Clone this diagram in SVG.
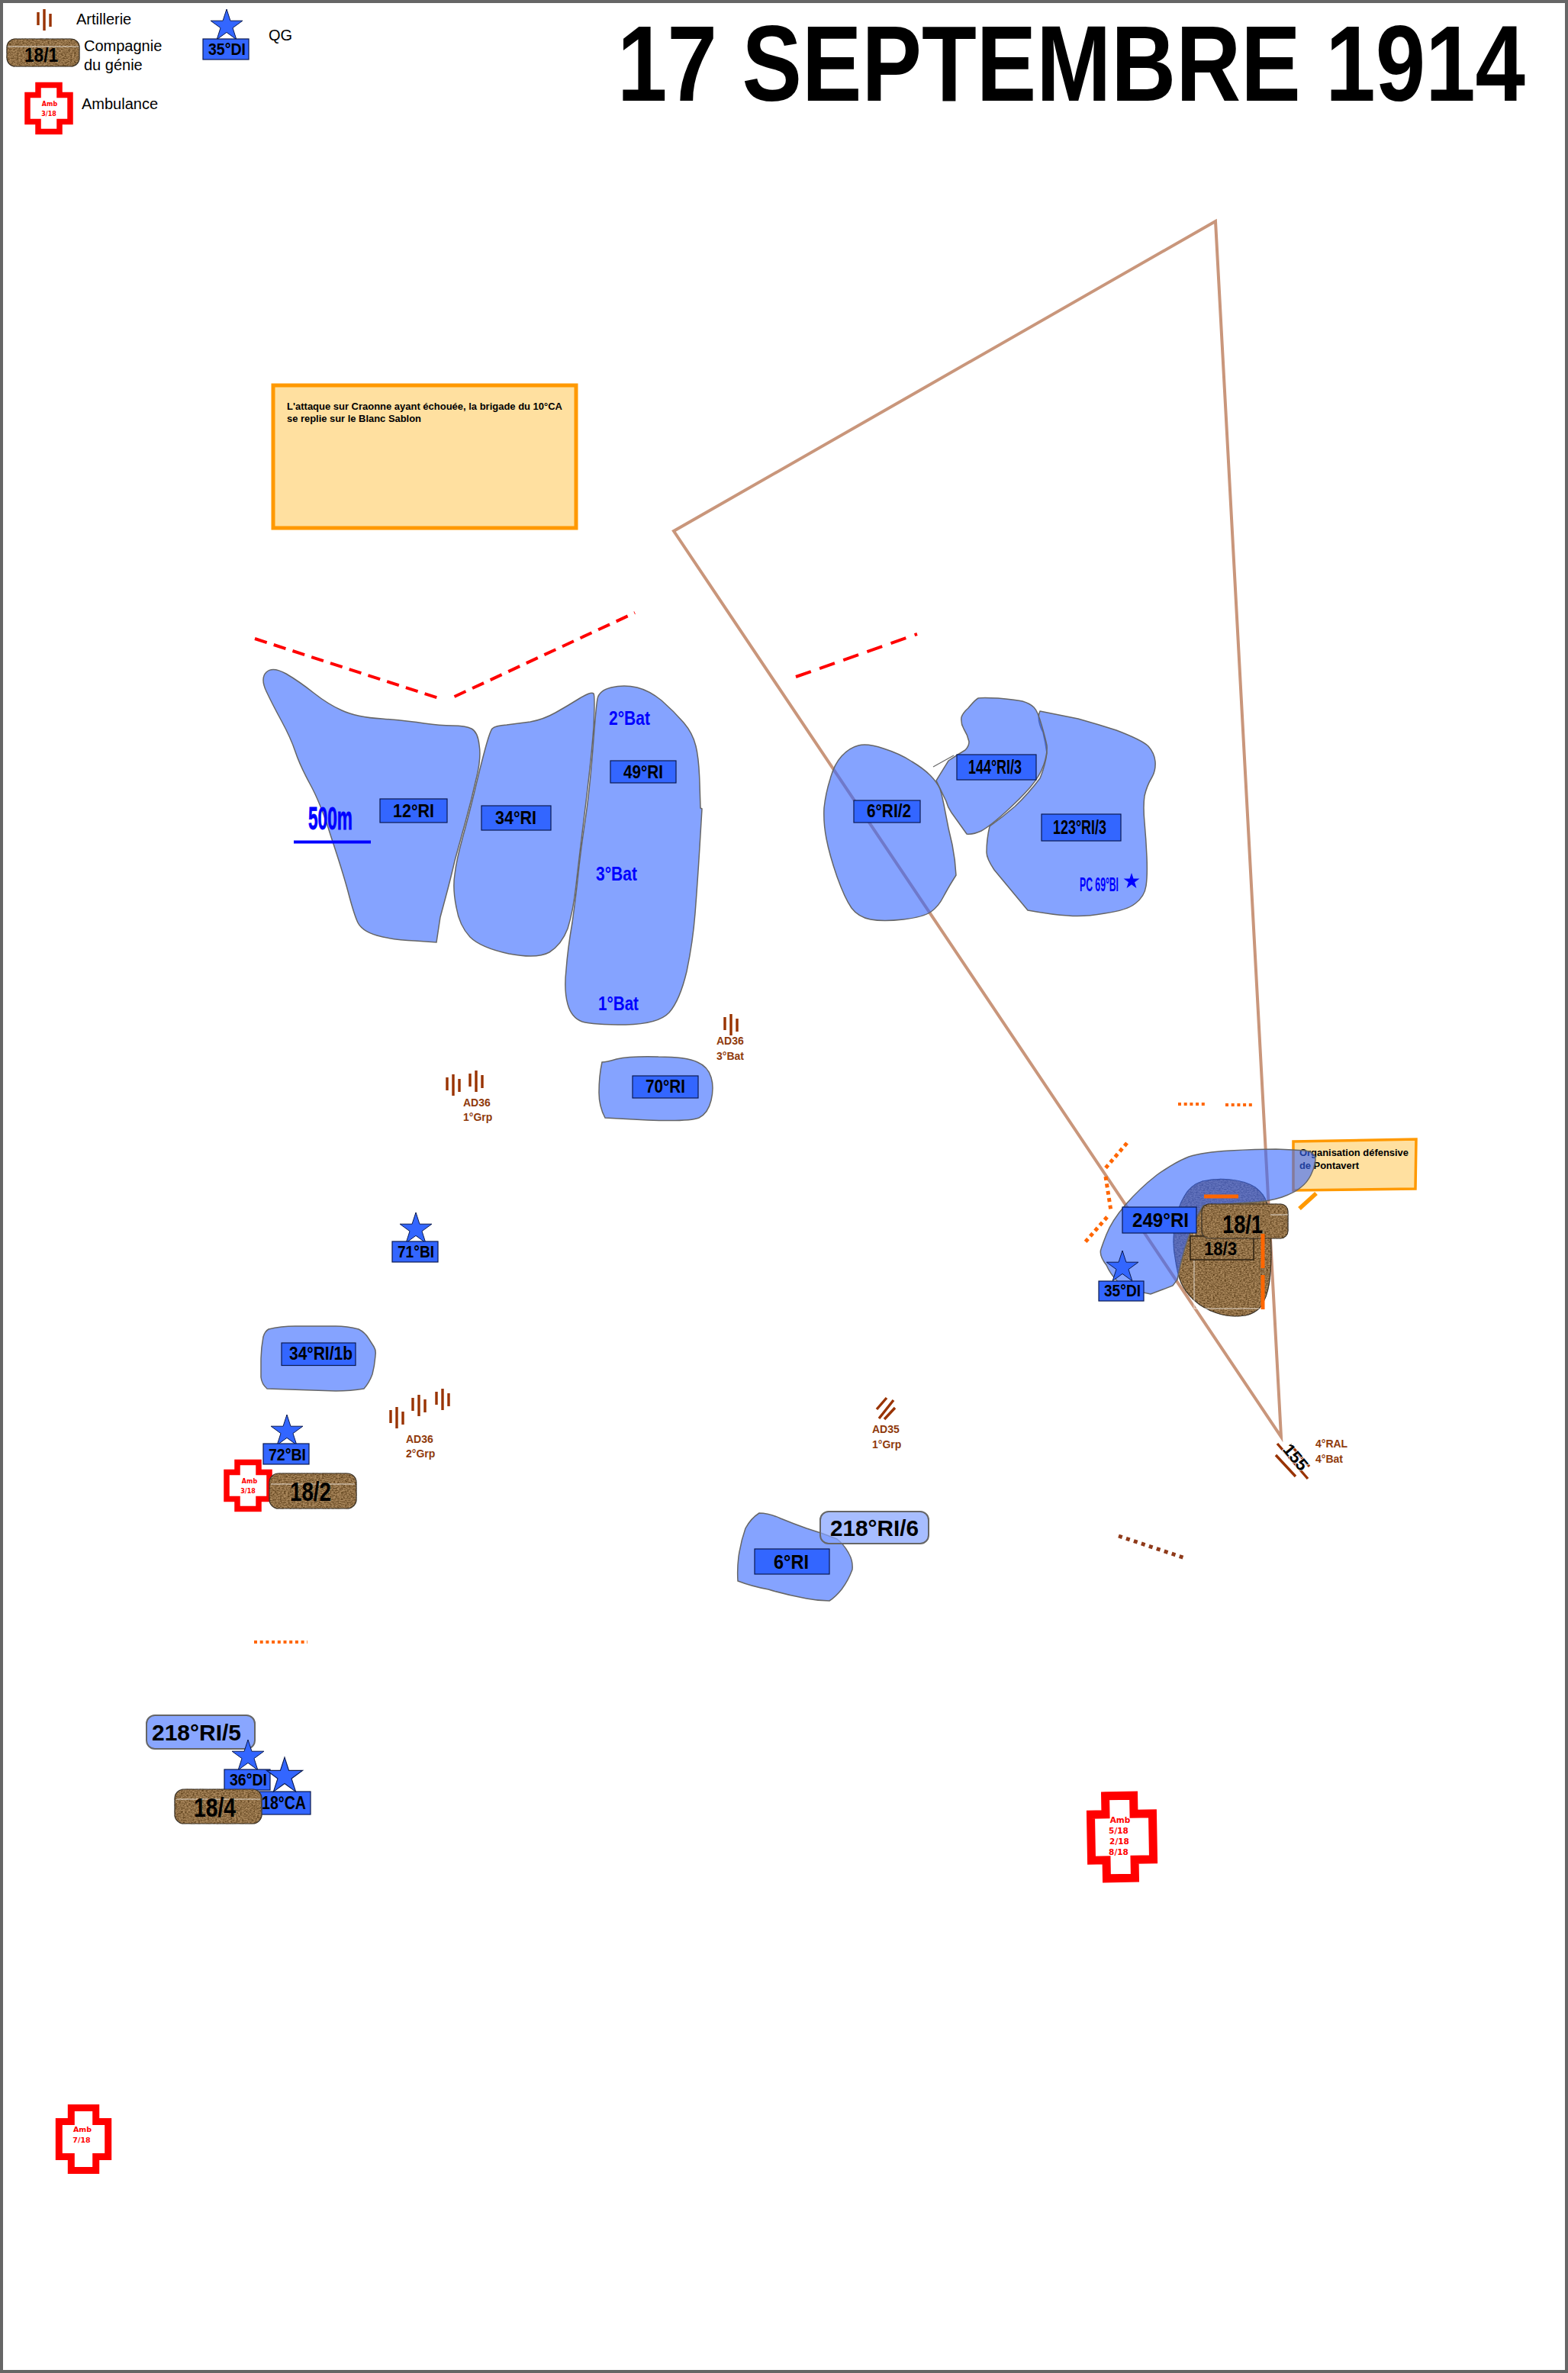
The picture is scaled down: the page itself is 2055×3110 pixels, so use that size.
<svg xmlns="http://www.w3.org/2000/svg" xmlns:xlink="http://www.w3.org/1999/xlink" width="2055" height="3110" viewBox="0 0 2055 3110">
<style>
text{font-family:"Liberation Sans",Arial,sans-serif}
.b{font-weight:bold;fill:#000}
.r{fill:#000;font-size:20px}
.bl{font-weight:bold;fill:#0000ff}
.br{font-weight:bold;fill:#8f3a0c;font-size:14px}
.am{font-family:"DejaVu Sans",sans-serif;font-weight:bold;fill:#ff0000;text-anchor:middle;font-size:8px}
.am2{font-family:"DejaVu Sans",sans-serif;font-weight:bold;fill:#ff0000;text-anchor:middle;font-size:10.5px}
.blob{fill:#3366ff;fill-opacity:.6;stroke:#666;stroke-width:1.5}
.lab{fill:#3366ff;stroke:#0a1a50;stroke-width:1.2}
.pill{fill:#85a3ff;fill-opacity:.97;stroke:#666;stroke-width:2}
.sand{fill:#ad8a5e;stroke:#333;stroke-width:1.2;filter:url(#sand)}
.seam{stroke:#fff;stroke-width:1;opacity:.75;fill:none}
.note{fill:#ffe0a0;stroke:#ff9900}
.cross{fill:#fff;stroke:#ff0000;stroke-miterlimit:10}
.gun{stroke:#993300;stroke-width:3.4;fill:none}
.or{stroke:#ff6600;fill:none}
.tri{fill:none;stroke:#c9967b;stroke-width:4}
.red{fill:none;stroke:#ff0000;stroke-width:4}
.star{fill:#3366ff;stroke:#0a1a50;stroke-width:1}
</style>
<defs>
<filter id="sand" x="-2%" y="-2%" width="104%" height="104%" color-interpolation-filters="sRGB">
<feTurbulence type="fractalNoise" baseFrequency="0.4 0.75" numOctaves="2" seed="3" result="n"/>
<feColorMatrix in="n" type="matrix" values="0 0 0 0 .33 0 0 0 0 .22 0 0 0 0 .08 1.9 0 0 0 -.62" result="d"/>
<feComposite in="d" in2="SourceGraphic" operator="in" result="d2"/>
<feMerge><feMergeNode in="SourceGraphic"/><feMergeNode in="d2"/></feMerge>
</filter>
<path id="st" d="M0,-22 L4.94,-6.8 L20.9,-6.8 L8,2.6 L12.9,17.8 L0,8.4 L-12.9,17.8 L-8,2.6 L-20.9,-6.8 L-4.94,-6.8Z"/>
<g id="gun"><path class="gun" d="M0,0V28M-8,4V21M8,6V23"/></g>
<path id="cr" d="M-14,-30.5H14V-17.5H28V17.5H14V30.5H-14V17.5H-28V-17.5H-14Z"/>
</defs>

<rect x="2" y="2" width="2051" height="3106" fill="#fff" stroke="#666" stroke-width="4"/>

<g id="connectors">
<path class="tri" d="M1593,290L883,696L1679,1883Z"/>
<path class="red" stroke-dasharray="16.5 9.5" d="M334,837L581,917"/>
<path class="red" stroke-dasharray="16.5 9.5" d="M595.500,913L832,803"/>
<path class="red" stroke-dasharray="21 12" d="M1043,887L1202,831"/>
<path class="or" stroke-width="4" stroke-dasharray="4 3.700" d="M1544,1447H1580"/>
<path class="or" stroke-width="4" stroke-dasharray="4 3.700" d="M1606,1448H1642"/>
<path class="or" stroke-width="5" stroke-dasharray="5 4.500" d="M1477,1498L1448,1532"/>
<path class="or" stroke-width="5" stroke-dasharray="5 4.500" d="M1449,1542L1456,1587"/>
<path class="or" stroke-width="5" stroke-dasharray="5 4.500" d="M1451,1595L1422,1628"/>
<path class="or" stroke-width="4" stroke-dasharray="4 3.700" d="M333,2152H403"/>
<path stroke="#8f3a1a" fill="none" stroke-width="5" stroke-dasharray="5 5.500" d="M1466,2013L1553,2042"/>
</g>

<text id="title" class="b" x="809" y="132" font-size="141" textLength="1190" lengthAdjust="spacingAndGlyphs">17 SEPTEMBRE 1914</text>

<g id="legend-artillerie"><use href="#gun" transform="translate(58,12)"/><text class="r" x="100" y="32">Artillerie</text></g>
<g id="legend-genie">
<rect class="sand" x="9" y="51" width="95" height="36" rx="11"/><path class="seam" d="M10,61H103"/>
<text class="b" x="32" y="81" font-size="25" textLength="44" lengthAdjust="spacingAndGlyphs">18/1</text>
<text class="r" x="110" y="67">Compagnie</text><text class="r" x="110" y="92">du génie</text>
</g>
<g id="legend-ambulance">
<use href="#cr" class="cross" stroke-width="7.500" transform="translate(64,142)"/>
<text class="am" x="65" y="139">Amb</text><text class="am" x="64" y="152">3/18</text>
<text class="r" x="107" y="143">Ambulance</text>
</g>
<g id="legend-qg">
<use href="#st" class="star" transform="translate(297,34)"/>
<rect class="lab" x="266" y="51" width="60" height="27"/>
<text class="b" x="273" y="72" font-size="22" textLength="49" lengthAdjust="spacingAndGlyphs">35°DI</text>
<text class="r" x="352" y="53">QG</text>
</g>

<g id="note-craonne">
<rect class="note" stroke-width="5" x="358" y="505" width="397" height="187"/>
<text class="b" font-size="12" x="376" y="537" textLength="361" lengthAdjust="spacingAndGlyphs">L'attaque sur Craonne ayant échouée, la brigade du 10°CA</text>
<text class="b" font-size="12" x="376" y="553" textLength="176" lengthAdjust="spacingAndGlyphs">se replie sur le Blanc Sablon</text>
</g>

<g id="ri12">
<path class="blob" d="M349,881Q357,873 375,883Q392,893 411,908Q430,923 448,931Q467,940 501,942Q536,945 556,948Q577,951 593,951Q610,951 618,955Q626,959 628,976Q631,994 624,1021Q618,1048 610,1077Q602,1106 596,1128Q591,1150 584,1176L577,1202L572,1235L544,1233Q516,1232 494,1226Q473,1220 468,1207Q463,1195 456,1168Q449,1142 434,1097Q420,1052 406,1027Q393,1003 387,985Q381,967 369,945Q357,923 349,906Q341,889 349,881Z"/>
<rect class="lab" x="498" y="1047" width="88" height="31"/>
<text class="b" x="515" y="1071" font-size="24" textLength="54" lengthAdjust="spacingAndGlyphs">12°RI</text>
</g>
<g id="ri34">
<path class="blob" d="M664,950Q679,948 695,946Q712,943 728,934Q744,925 760,915Q775,906 778,909Q780,912 778,953Q775,994 767,1059Q759,1124 755,1160Q751,1195 744,1217Q736,1238 720,1248Q704,1257 667,1250Q630,1242 616,1228Q602,1213 598,1189Q593,1164 596,1146Q598,1128 606,1099Q614,1070 622,1037Q630,1003 636,981Q642,959 645,955Q649,951 664,950Z"/>
<rect class="lab" x="631" y="1056" width="91" height="32"/>
<text class="b" x="649" y="1080" font-size="24" textLength="54" lengthAdjust="spacingAndGlyphs">34°RI</text>
</g>
<g id="ri49">
<path class="blob" d="M801,901Q818,897 835,901Q851,905 867,918Q883,932 896,947Q908,961 912,978Q916,994 917,1027L918,1059L920,1060L917,1110Q914,1159 911,1197Q908,1235 900,1273Q891,1311 877,1327Q863,1342 820,1343Q777,1343 763,1339Q749,1334 744,1316Q739,1298 742,1271Q744,1244 750,1209Q755,1173 758,1144Q761,1115 767,1075Q773,1034 777,981Q781,927 783,916Q785,905 801,901Z"/>
<rect class="lab" x="800" y="997" width="86" height="29"/>
<text class="b" x="817" y="1020" font-size="24" textLength="52" lengthAdjust="spacingAndGlyphs">49°RI</text>
<text class="bl" x="798" y="950" font-size="26" textLength="54" lengthAdjust="spacingAndGlyphs">2°Bat</text>
<text class="bl" x="781" y="1154" font-size="26" textLength="54" lengthAdjust="spacingAndGlyphs">3°Bat</text>
<text class="bl" x="784" y="1324" font-size="26" textLength="53" lengthAdjust="spacingAndGlyphs">1°Bat</text>
</g>
<g id="scale-500m">
<text class="bl" x="404" y="1087" font-size="42" stroke="#0000ff" stroke-width=".8" textLength="58" lengthAdjust="spacingAndGlyphs">500m</text>
<path stroke="#0000ff" stroke-width="4" d="M385,1103.500H486"/>
</g>
<g id="ri70">
<path class="blob" d="M808,1388Q826,1384 863,1385Q900,1385 914,1392Q928,1398 932,1412Q936,1425 932,1442Q928,1459 916,1465Q904,1470 849,1468L793,1465Q785,1450 785,1432Q785,1410 789,1392Q795,1392 808,1388Z"/>
<rect class="lab" x="829" y="1410" width="86" height="29"/>
<text class="b" x="846" y="1432" font-size="24" textLength="52" lengthAdjust="spacingAndGlyphs">70°RI</text>
</g>

<g id="ri6-2">
<path class="blob" d="M1158,981Q1180,988 1195,998Q1210,1007 1219,1016Q1228,1025 1232,1034Q1235,1043 1239,1065Q1243,1087 1248,1107Q1252,1127 1253,1147L1248,1155Q1243,1163 1236,1176Q1230,1188 1220,1195Q1210,1202 1184,1205Q1157,1208 1141,1205Q1125,1202 1116,1190Q1107,1177 1097,1149Q1087,1120 1083,1099Q1079,1078 1080,1059Q1082,1040 1088,1021Q1093,1002 1103,991Q1113,980 1125,977Q1137,974 1158,981Z"/>
<rect class="lab" x="1119" y="1049" width="87" height="29"/>
<text class="b" x="1136" y="1071" font-size="24" textLength="58" lengthAdjust="spacingAndGlyphs">6°RI/2</text>
</g>
<g id="ri123-3">
<path class="blob" d="M1363,932Q1388,937 1413,942Q1438,949 1463,957Q1497,970 1505,978Q1513,987 1514,998Q1515,1010 1509,1020Q1503,1030 1500,1043Q1498,1057 1500,1078Q1502,1100 1503,1123Q1504,1147 1502,1161Q1500,1175 1488,1184Q1477,1193 1448,1197Q1420,1202 1400,1200Q1380,1199 1347,1193L1303,1140Q1293,1125 1293,1117Q1293,1100 1297,1083Q1315,1070 1330,1057Q1348,1040 1363,1020Q1370,1003 1372,987Q1370,972 1367,960Q1358,942 1363,932Z"/>
<rect class="lab" x="1365" y="1067" width="104" height="35"/>
<text class="b" x="1380" y="1093" font-size="26" textLength="70" lengthAdjust="spacingAndGlyphs">123°RI/3</text>
<text class="bl" x="1415" y="1168" font-size="26" textLength="51" lengthAdjust="spacingAndGlyphs">PC 69°BI</text>
<use href="#st" fill="#0000ff" transform="translate(1483,1155) scale(.5)"/>
</g>
<g id="ri144-3">
<path class="blob" d="M1269,928Q1278,917 1282,915Q1287,914 1308,915Q1330,917 1340,919Q1350,922 1355,927Q1360,932 1365,950Q1370,967 1372,977Q1373,987 1368,1002Q1363,1017 1350,1032Q1337,1047 1317,1065Q1297,1083 1286,1089Q1275,1094 1267,1093L1247,1065Q1242,1058 1240,1050L1227,1023L1243,997Q1255,989 1265,983Q1270,978 1270,972Q1268,963 1263,955Q1259,948 1260,940Q1262,934 1269,928Z"/>
<path fill="none" stroke="#666" stroke-width="1.200" d="M1223,1005L1250,990"/>
<rect class="lab" x="1254" y="989" width="104" height="33"/>
<text class="b" x="1269" y="1014" font-size="26" textLength="70" lengthAdjust="spacingAndGlyphs">144°RI/3</text>
</g>

<g id="note-pontavert">
<path class="note" stroke-width="3.500" d="M1695,1496L1856,1493L1855,1558L1695,1560Z"/>
<text class="b" font-size="12.500" x="1703" y="1515" textLength="143" lengthAdjust="spacingAndGlyphs">Organisation défensive</text>
<text class="b" font-size="12.500" x="1703" y="1532" textLength="78" lengthAdjust="spacingAndGlyphs">de Pontavert</text>
<path stroke="#ff9900" stroke-width="5.500" fill="none" d="M1725,1564L1703,1584"/>
</g>

<g id="terrain-pontavert">
<path class="sand" d="M1540,1605Q1543,1583 1552,1568Q1560,1553 1576,1548Q1593,1544 1613,1546Q1633,1548 1645,1556Q1657,1565 1660,1576Q1663,1587 1665,1615Q1667,1643 1665,1668Q1663,1693 1656,1706Q1650,1720 1632,1724Q1613,1727 1595,1721Q1577,1715 1565,1704Q1553,1693 1548,1681Q1543,1670 1540,1648Q1536,1627 1540,1605Z"/>
<path class="seam" d="M1565,1597V1715H1650" opacity=".5"/>
</g>
<g id="genie18-3">
<rect class="sand" style="stroke:#000" x="1560" y="1620" width="83" height="31"/>
<text class="b" x="1578" y="1645" font-size="24" textLength="43" lengthAdjust="spacingAndGlyphs">18/3</text>
</g>
<g id="ri249">
<path class="blob" d="M1450,1618Q1457,1600 1475,1579Q1493,1558 1516,1540Q1540,1523 1558,1516Q1577,1510 1612,1508Q1647,1506 1672,1506Q1697,1507 1711,1508Q1724,1510 1724,1520Q1723,1530 1718,1540Q1713,1550 1705,1556Q1697,1563 1680,1569Q1662,1575 1637,1576L1577,1580Q1565,1600 1557,1623Q1548,1650 1543,1677L1537,1685L1508,1696L1480,1690Q1460,1680 1450,1658Q1440,1645 1443,1637Q1446,1628 1450,1618Z"/>
<rect class="lab" x="1471" y="1582" width="97" height="34"/>
<text class="b" x="1484" y="1608" font-size="26" textLength="74" lengthAdjust="spacingAndGlyphs">249°RI</text>
</g>
<g id="genie18-1">
<rect class="sand" x="1575" y="1578" width="113" height="45" rx="10"/>
<path class="seam" d="M1665,1592H1688"/>
<text class="b" x="1602" y="1616" font-size="34" textLength="53" lengthAdjust="spacingAndGlyphs">18/1</text>
</g>
<g id="di35">
<use href="#st" class="star" transform="translate(1471,1661)"/>
<rect class="lab" x="1440" y="1679" width="59" height="26"/>
<text class="b" x="1447" y="1699" font-size="22" textLength="48" lengthAdjust="spacingAndGlyphs">35°DI</text>
</g>
<g id="front-lines">
<path class="or" stroke-width="5" d="M1578,1568H1623M1655,1617V1662M1655,1671V1716"/>
</g>

<g id="ad36-3"><use href="#gun" transform="translate(958,1329)"/>
<text class="br" x="939" y="1369">AD36</text><text class="br" x="939" y="1389">3°Bat</text></g>
<g id="ad36-1"><use href="#gun" transform="translate(594,1408)"/><use href="#gun" transform="translate(624,1403)"/>
<text class="br" x="607" y="1450">AD36</text><text class="br" x="607" y="1469">1°Grp</text></g>
<g id="bi71">
<use href="#st" class="star" transform="translate(545,1611)"/>
<rect class="lab" x="514" y="1627" width="60" height="27"/>
<text class="b" x="521" y="1648" font-size="22" textLength="48" lengthAdjust="spacingAndGlyphs">71°BI</text>
</g>
<g id="ri34-1b">
<path class="blob" d="M342,1784Q342,1768 345,1752Q347,1745 352,1742Q368,1738 387,1738L440,1738Q455,1738 470,1742Q478,1746 483,1754L490,1765Q493,1770 492,1776Q491,1790 488,1801Q484,1812 477,1820Q460,1823 440,1823L350,1820Q343,1814 342,1805Z"/>
<rect class="lab" x="369" y="1760" width="97" height="29.500"/>
<text class="b" x="379" y="1782" font-size="24" textLength="83" lengthAdjust="spacingAndGlyphs">34°RI/1b</text>
</g>
<g id="ad36-2"><use href="#gun" transform="translate(520,1844)"/><use href="#gun" transform="translate(549,1828)"/><use href="#gun" transform="translate(580,1820)"/>
<text class="br" x="532" y="1891">AD36</text><text class="br" x="532" y="1910">2°Grp</text></g>
<g id="bi72">
<use href="#st" class="star" transform="translate(376,1876)"/>
<rect class="lab" x="345" y="1892" width="60" height="27"/>
<text class="b" x="352" y="1913.500" font-size="22" textLength="49" lengthAdjust="spacingAndGlyphs">72°BI</text>
</g>
<g id="amb3-18">
<use href="#cr" class="cross" stroke-width="7.500" transform="translate(325,1947)"/>
<text class="am" x="327" y="1944">Amb</text><text class="am" x="325" y="1957">3/18</text>
</g>
<g id="genie18-2">
<rect class="sand" x="353" y="1931" width="114" height="46" rx="12"/><path class="seam" d="M355,1945H465"/>
<text class="b" x="380" y="1966.500" font-size="35" textLength="54" lengthAdjust="spacingAndGlyphs">18/2</text>
</g>

<g id="ad35-1"><path class="gun" d="M1162,1832L1149,1847M1171,1835L1152,1859M1173,1845L1159,1860"/>
<text class="br" x="1143" y="1878">AD35</text><text class="br" x="1143" y="1898">1°Grp</text></g>
<g id="ri6">
<path class="blob" d="M967,2072Q966,2056 968,2040Q971,2020 977,2003Q984,1990 995,1983Q1008,1983 1023,1990Q1040,1997 1057,2003Q1077,2009 1097,2017Q1107,2025 1113,2037Q1118,2046 1117,2057Q1112,2071 1103,2083Q1095,2093 1087,2098Q1072,2098 1057,2095Q1030,2090 1007,2083Q985,2079 967,2072Z"/>
<rect class="lab" x="989" y="2030" width="98" height="33"/>
<text class="b" x="1014" y="2056" font-size="26" textLength="46" lengthAdjust="spacingAndGlyphs">6°RI</text>
</g>
<g id="ri218-6">
<rect class="pill" style="fill-opacity:.72" x="1075" y="1981" width="142" height="42" rx="11"/>
<text class="b" x="1088" y="2013" font-size="30" textLength="116" lengthAdjust="spacingAndGlyphs">218°RI/6</text>
</g>

<g id="ral4">
<path class="gun" d="M1674,1892L1714,1938M1691,1893L1716,1922M1672,1907L1698,1935"/>
<text class="b" transform="translate(1680,1900) rotate(50)" font-size="22" stroke="#fff" stroke-width="1.500" paint-order="stroke" textLength="38" lengthAdjust="spacingAndGlyphs">155</text>
<text class="br" x="1724" y="1897">4°RAL</text><text class="br" x="1724" y="1917">4°Bat</text>
</g>

<g id="ri218-5">
<rect class="pill" x="192" y="2248" width="142" height="44" rx="11"/>
<text class="b" x="199" y="2281" font-size="30" textLength="117" lengthAdjust="spacingAndGlyphs">218°RI/5</text>
</g>
<g id="di36">
<use href="#st" class="star" transform="translate(325,2302)"/>
<rect class="lab" x="294" y="2319" width="60" height="27"/>
<text class="b" x="301" y="2340" font-size="22" textLength="49" lengthAdjust="spacingAndGlyphs">36°DI</text>
</g>
<g id="ca18">
<rect class="lab" x="340" y="2348" width="67" height="30"/>
<use href="#st" class="star" transform="translate(373,2328) scale(1.130)"/>
<text class="b" x="343" y="2371" font-size="24" textLength="58" lengthAdjust="spacingAndGlyphs">18°CA</text>
</g>
<g id="genie18-4">
<rect class="sand" x="229" y="2345" width="114" height="45" rx="12"/><path class="seam" d="M231,2358H341"/>
<text class="b" x="254" y="2381" font-size="35" textLength="55" lengthAdjust="spacingAndGlyphs">18/4</text>
</g>

<g id="amb-5-2-8" transform="rotate(-1 1468 2407)">
<path class="cross" stroke-width="11" d="M1449.500,2353.500H1486.500V2377.500H1511V2437.500H1486.500V2461.500H1449.500V2437.500H1430V2377.500H1449.500Z" transform="translate(0,0)"/>
</g>
<g id="amb-5-2-8-text">
<text class="am2" x="1468" y="2389">Amb</text><text class="am2" x="1466" y="2403">5/18</text><text class="am2" x="1467" y="2417">2/18</text><text class="am2" x="1466" y="2431">8/18</text>
</g>
<g id="amb7-18">
<path class="cross" stroke-width="9" d="M93.300,2762.500H125.700V2780.500H141.700V2826.500H125.700V2844.500H93.300V2826.500H77.300V2780.500H93.300Z"/>
<text class="am2" style="font-size:9.500px" x="108" y="2794">Amb</text><text class="am2" style="font-size:9.500px" x="107" y="2808">7/18</text>
</g>
</svg>
